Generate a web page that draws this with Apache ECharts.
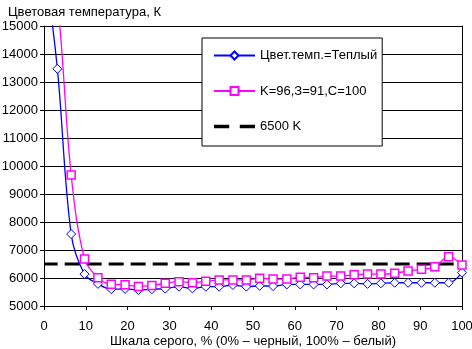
<!DOCTYPE html>
<html><head><meta charset="utf-8">
<script src="https://cdn.jsdelivr.net/npm/echarts@6/dist/echarts.min.js"></script>
<style>html,body{margin:0;padding:0;background:#fff}#c{width:472px;height:349px}</style>
</head><body><div id="c"></div>
<script>
var grayLevels = [0, 3.2, 6.5, 9.7, 12.9, 16.1, 19.4, 22.6, 25.8, 29.0, 32.3, 35.5, 38.7, 41.9, 45.2, 48.4, 51.6, 54.8, 58.1, 61.3, 64.5, 67.7, 71.0, 74.2, 77.4, 80.6, 83.9, 87.1, 90.3, 93.5, 96.8, 100];
var warmTemp = [17400, 13470, 7570, 6140, 5790, 5600, 5610, 5570, 5600, 5620, 5690, 5630, 5690, 5690, 5750, 5690, 5720, 5710, 5770, 5770, 5770, 5770, 5810, 5810, 5790, 5810, 5830, 5830, 5830, 5830, 5830, 6190];
var customTemp = [18500, 15900, 9680, 6680, 6010, 5775, 5760, 5700, 5735, 5810, 5870, 5830, 5880, 5930, 5930, 5930, 5990, 5960, 5960, 6030, 6010, 6070, 6070, 6120, 6140, 6140, 6170, 6250, 6310, 6400, 6760, 6460];
var refX = [0, 100];
var refTemp = [6500, 6500];
var seriesNames = ['Цвет.темп.=Теплый', 'K=96,З=91,C=100', '6500 K'];
var yTicks = [5000, 6000, 7000, 8000, 9000, 10000, 11000, 12000, 13000, 14000, 15000];
var xTicks = [0, 10, 20, 30, 40, 50, 60, 70, 80, 90, 100];

function pairs(xs, ys){ return xs.map(function(x,i){ return [x, ys[i]]; }); }
var FONT = '"Liberation Sans", Arial, sans-serif';
var chart = echarts.init(document.getElementById('c'), null, {renderer:'canvas'});
chart.setOption({
  animation: false,
  backgroundColor: '#fff',
  textStyle: {fontFamily: FONT, color: '#000'},
  title: {text: 'Цветовая температура, К', left: 3, top: 1,
    textStyle: {fontFamily: FONT, fontSize: 13, fontWeight: 'normal', color: '#000'}},
  grid: {left: 44, right: 10, top: 26, bottom: 43, show: false, containLabel: false, outerBoundsMode: 'none'},
  xAxis: {type: 'value', min: xTicks[0], max: xTicks[xTicks.length-1], interval: 10,
    name: 'Шкала серого, % (0% – черный, 100% – белый)', nameLocation: 'middle', nameGap: 29,
    nameMoveOverlap: false,
    nameTextStyle: {fontFamily: FONT, fontSize: 13, color: '#000'},
    axisLine: {lineStyle: {color: '#000', width: 1}},
    axisTick: {show: true, length: 4, lineStyle: {color: '#000'}},
    axisLabel: {fontFamily: FONT, fontSize: 13, color: '#000', margin: 14, formatter: function(v){ return String(v); }},
    splitLine: {show: false}},
  yAxis: [{type: 'value', min: yTicks[0], max: yTicks[yTicks.length-1], interval: 1000,
    axisLine: {show: true, lineStyle: {color: '#000', width: 1}},
    axisTick: {show: true, length: 4, lineStyle: {color: '#000'}},
    axisLabel: {fontFamily: FONT, fontSize: 13, color: '#000', margin: 6, formatter: function(v){ return String(v); }},
    splitLine: {show: true, lineStyle: {color: '#000', width: 1}}},
   {type: 'value', position: 'right', min: yTicks[0], max: yTicks[yTicks.length-1], interval: 1000,
    axisLine: {show: true, lineStyle: {color: '#000', width: 1}},
    axisTick: {show: false}, axisLabel: {show: false}, splitLine: {show: false}}],
  legend: {orient: 'vertical', left: 202, top: 38, padding: [11, 5, 13, 11],
    itemWidth: 41, itemHeight: 10, itemGap: 22.5,
    backgroundColor: '#fff', borderColor: '#000', borderWidth: 1, borderRadius: 0,
    textStyle: {fontFamily: FONT, fontSize: 13, color: '#000'},
    data: [
      {name: seriesNames[0]},
      {name: seriesNames[1]},
      {name: seriesNames[2], icon: 'path://M0,0h13v3h-13zM22,0h13v3h-13z', symbolKeepAspect: true, itemStyle: {color: '#000'}}
    ]},
  series: [
    {name: seriesNames[0], type: 'line', data: pairs(grayLevels, warmTemp), clip: true, smooth: 0.35,
     symbol: 'diamond', symbolSize: [9, 9], showAllSymbol: true,
     lineStyle: {color: '#0000ff', width: 1.3}, itemStyle: {color: '#fff', borderColor: '#0000ff', borderWidth: 1}, z: 3},
    {name: seriesNames[1], type: 'line', data: pairs(grayLevels, customTemp), clip: true, smooth: 0.35,
     symbol: 'rect', symbolSize: 8, showAllSymbol: true,
     lineStyle: {color: '#ff00ff', width: 1.3}, itemStyle: {color: '#fff', borderColor: '#ff00ff', borderWidth: 1.5}, z: 4},
    {name: seriesNames[2], type: 'line', data: pairs(refX, refTemp), clip: true,
     symbol: 'none', lineStyle: {color: '#000', width: 3, type: [15, 7], dashOffset: 1.3}, itemStyle: {color: '#000'}, z: 2}
  ]
});
</script></body></html>
